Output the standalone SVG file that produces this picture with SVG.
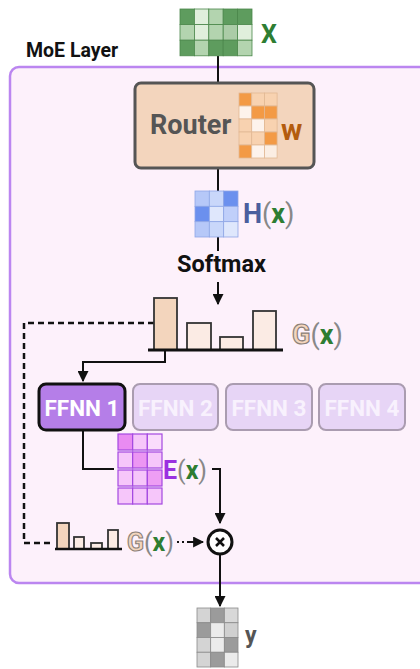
<svg xmlns="http://www.w3.org/2000/svg" width="420" height="669" viewBox="0 0 420 669">
<style>
.t{font-family:Roboto,"Liberation Sans",Arial,sans-serif;font-weight:bold}
.ln{stroke:#111;stroke-width:2;fill:none}
.dash{stroke:#111;stroke-width:2.5;fill:none;stroke-dasharray:6 4}
.bar{stroke:#333;stroke-width:1.8}
.gx{stroke:#4a874a;stroke-width:0.8}
.gw{stroke:#e2b894;stroke-width:0.8}
.gh{stroke:#8ea6e6;stroke-width:0.8}
.ge{stroke:#a448e0;stroke-width:1.2}
.gy{stroke:#8a8a8a;stroke-width:0.8}
.par{fill:#888;font-weight:normal}
.gr{fill:#2e7d32}
</style>
<defs>
<marker id="ah" viewBox="0 0 10 10" refX="9" refY="5" markerWidth="5.5" markerHeight="5.5" orient="auto" markerUnits="strokeWidth">
<path d="M0,0 L10,5 L0,10 z" fill="#111"/>
</marker>
</defs>

<g id="moe-layer">
<rect x="10" y="67" width="425" height="516" rx="9" fill="#fdf1fb" stroke="#bb86f0" stroke-width="2.5"/>
<text class="t" x="26" y="57" font-size="19.5" fill="#111">MoE Layer</text>
</g>

<g id="connectors">
<line class="ln" x1="218" y1="56" x2="218" y2="83"/>
<line class="ln" x1="218" y1="168" x2="218" y2="191"/>
<line class="ln" x1="218" y1="237" x2="218" y2="251"/>
<line class="ln" x1="218" y1="282" x2="218" y2="304" marker-end="url(#ah)"/>
<polyline class="ln" points="165,350 165,362 83,362 83,381" marker-end="url(#ah)"/>
<polyline class="dash" points="154,323 24,323 24,543 52,543"/>
<polyline class="ln" points="83,430 83,469 114,469"/>
<polyline class="ln" points="212,469 220,469 220,523" marker-end="url(#ah)"/>
<line x1="177" y1="542" x2="189" y2="542" stroke="#111" stroke-width="2" stroke-dasharray="2 3"/>
<line x1="189" y1="542" x2="203" y2="542" stroke="#111" stroke-width="2" marker-end="url(#ah)"/>
<line class="ln" x1="220" y1="554" x2="220" y2="606" marker-end="url(#ah)"/>
</g>

<g id="input-x">
<g class="gx">
<rect x="180" y="9" width="14.4" height="15.6" fill="#5e9c5e"/>
<rect x="194.4" y="9" width="14.4" height="15.6" fill="#e0efdc"/>
<rect x="208.8" y="9" width="14.4" height="15.6" fill="#b3d4af"/>
<rect x="223.2" y="9" width="14.4" height="15.6" fill="#5e9c5e"/>
<rect x="237.6" y="9" width="14.4" height="15.6" fill="#5e9c5e"/>
<rect x="180" y="24.6" width="14.4" height="15.6" fill="#b3d4af"/>
<rect x="194.4" y="24.6" width="14.4" height="15.6" fill="#e0efdc"/>
<rect x="208.8" y="24.6" width="14.4" height="15.6" fill="#b3d4af"/>
<rect x="223.2" y="24.6" width="14.4" height="15.6" fill="#abcca7"/>
<rect x="237.6" y="24.6" width="14.4" height="15.6" fill="#e0efdc"/>
<rect x="180" y="40.2" width="14.4" height="15.6" fill="#5e9c5e"/>
<rect x="194.4" y="40.2" width="14.4" height="15.6" fill="#b3d4af"/>
<rect x="208.8" y="40.2" width="14.4" height="15.6" fill="#5e9c5e"/>
<rect x="223.2" y="40.2" width="14.4" height="15.6" fill="#5e9c5e"/>
<rect x="237.6" y="40.2" width="14.4" height="15.6" fill="#b3d4af"/>
</g>
<text class="t gr" x="261" y="43" font-size="25">X</text>
</g>

<g id="router">
<rect x="135" y="83" width="179" height="85" rx="6" fill="#f3d5bd" stroke="#555" stroke-width="3"/>
<text class="t" x="150" y="134" font-size="27" fill="#555">Router</text>
<g class="gw">
<rect x="239" y="93" width="12.7" height="13" fill="#f39a45"/>
<rect x="251.7" y="93" width="12.7" height="13" fill="#f8d2b0"/>
<rect x="264.4" y="93" width="12.7" height="13" fill="#f8d2b0"/>
<rect x="239" y="106" width="12.7" height="13" fill="#fdf3ec"/>
<rect x="251.7" y="106" width="12.7" height="13" fill="#f39a45"/>
<rect x="264.4" y="106" width="12.7" height="13" fill="#f39a45"/>
<rect x="239" y="119" width="12.7" height="13" fill="#f8d2b0"/>
<rect x="251.7" y="119" width="12.7" height="13" fill="#fdf3ec"/>
<rect x="264.4" y="119" width="12.7" height="13" fill="#f8d2b0"/>
<rect x="239" y="132" width="12.7" height="13" fill="#f8d2b0"/>
<rect x="251.7" y="132" width="12.7" height="13" fill="#f8d2b0"/>
<rect x="264.4" y="132" width="12.7" height="13" fill="#f39a45"/>
<rect x="239" y="145" width="12.7" height="13" fill="#f39a45"/>
<rect x="251.7" y="145" width="12.7" height="13" fill="#fdf3ec"/>
<rect x="264.4" y="145" width="12.7" height="13" fill="#fbeee3"/>
</g>
<text class="t" x="281" y="140" font-size="29" fill="#b35c0e">w</text>
</g>

<g id="hidden-h">
<g class="gh">
<rect x="195" y="191" width="14.33" height="15.33" fill="#b6c8f8"/>
<rect x="209.33" y="191" width="14.33" height="15.33" fill="#c9d7fa"/>
<rect x="223.67" y="191" width="14.33" height="15.33" fill="#6b90ee"/>
<rect x="195" y="206.33" width="14.33" height="15.33" fill="#6b90ee"/>
<rect x="209.33" y="206.33" width="14.33" height="15.33" fill="#dfe7fc"/>
<rect x="223.67" y="206.33" width="14.33" height="15.33" fill="#c0cffa"/>
<rect x="195" y="221.67" width="14.33" height="15.33" fill="#b6c8f8"/>
<rect x="209.33" y="221.67" width="14.33" height="15.33" fill="#c9d7fa"/>
<rect x="223.67" y="221.67" width="14.33" height="15.33" fill="#dfe7fc"/>
</g>
<text class="t" x="243" y="223" font-size="27" fill="#4a5f9e">H<tspan class="par">(</tspan><tspan class="gr">x</tspan><tspan class="par">)</tspan></text>
</g>

<g id="softmax">
<text class="t" x="177" y="272" font-size="23.5" fill="#111">Softmax</text>
</g>

<g id="gate-g">
<rect class="bar" x="154" y="298" width="23" height="52" fill="#f3d5bd"/>
<rect class="bar" x="187" y="323" width="24" height="27" fill="#fbebe4"/>
<rect class="bar" x="220" y="337" width="23" height="13" fill="#fbebe4"/>
<rect class="bar" x="253" y="311" width="23" height="39" fill="#fbebe4"/>
<line x1="148" y1="350" x2="283" y2="350" stroke="#111" stroke-width="3"/>
<text class="t" x="292" y="344" font-size="27"><tspan fill="#f3d5bd" stroke="#8c8078" stroke-width="1.2">G</tspan><tspan class="par">(</tspan><tspan class="gr">x</tspan><tspan class="par">)</tspan></text>
</g>

<g id="ffnn1">
<rect x="39" y="384" width="86" height="46" rx="7" fill="#b57ee8" stroke="#111" stroke-width="3"/>
<text class="t" x="82" y="416" font-size="22.5" fill="#fff" text-anchor="middle">FFNN 1</text>
</g>
<g id="ffnn2">
<rect x="133" y="384" width="85" height="46" rx="7" fill="#e7d5f6" stroke="#aa9cb0" stroke-width="2"/>
<text class="t" x="175.5" y="416" font-size="22.5" fill="#f8f1fd" text-anchor="middle">FFNN 2</text>
</g>
<g id="ffnn3">
<rect x="226" y="384" width="86" height="46" rx="7" fill="#e7d5f6" stroke="#aa9cb0" stroke-width="2"/>
<text class="t" x="269" y="416" font-size="22.5" fill="#f8f1fd" text-anchor="middle">FFNN 3</text>
</g>
<g id="ffnn4">
<rect x="319" y="384" width="86" height="46" rx="7" fill="#e7d5f6" stroke="#aa9cb0" stroke-width="2"/>
<text class="t" x="362" y="416" font-size="22.5" fill="#f8f1fd" text-anchor="middle">FFNN 4</text>
</g>

<g id="expert-e">
<g class="ge">
<rect x="118" y="434" width="14.67" height="16" fill="#e98bf2"/>
<rect x="132.67" y="434" width="14.67" height="16" fill="#f6c6fa"/>
<rect x="147.33" y="434" width="14.67" height="16" fill="#fadcfc"/>
<rect x="118" y="452" width="14.67" height="16" fill="#f6c6fa"/>
<rect x="132.67" y="452" width="14.67" height="16" fill="#ec96f3"/>
<rect x="147.33" y="452" width="14.67" height="16" fill="#f6c6fa"/>
<rect x="118" y="470" width="14.67" height="16" fill="#f6c6fa"/>
<rect x="132.67" y="470" width="14.67" height="16" fill="#f6c6fa"/>
<rect x="147.33" y="470" width="14.67" height="16" fill="#ee9ef4"/>
<rect x="118" y="488" width="14.67" height="16" fill="#f6c6fa"/>
<rect x="132.67" y="488" width="14.67" height="16" fill="#f6c6fa"/>
<rect x="147.33" y="488" width="14.67" height="16" fill="#f6c6fa"/>
</g>
<text class="t" x="163" y="479" font-size="25" fill="#9b30e0">E<tspan class="par">(</tspan><tspan class="gr">x</tspan><tspan class="par">)</tspan></text>
</g>

<g id="gate-g-small">
<rect class="bar" x="57" y="523" width="12" height="26" fill="#f3d5bd"/>
<rect class="bar" x="74" y="537" width="10" height="12" fill="#fbebe4"/>
<rect class="bar" x="91" y="543" width="11" height="6" fill="#fbebe4"/>
<rect class="bar" x="108" y="530" width="10" height="19" fill="#fbebe4"/>
<line x1="55" y1="549" x2="122" y2="549" stroke="#111" stroke-width="2.5"/>
<text class="t" x="127" y="551" font-size="25"><tspan fill="#f3d5bd" stroke="#8c8078" stroke-width="1.1">G</tspan><tspan class="par">(</tspan><tspan class="gr">x</tspan><tspan class="par">)</tspan></text>
</g>

<g id="multiply">
<circle cx="220" cy="542" r="12" fill="#fff" stroke="#111" stroke-width="3"/>
<path d="M216,538 L224,546 M224,538 L216,546" stroke="#111" stroke-width="2.5"/>
</g>

<g id="output-y">
<g class="gy">
<rect x="197" y="608" width="13.67" height="14.75" fill="#d4d4d4"/>
<rect x="210.67" y="608" width="13.67" height="14.75" fill="#9b9b9b"/>
<rect x="224.33" y="608" width="13.67" height="14.75" fill="#d8d8d8"/>
<rect x="197" y="622.75" width="13.67" height="14.75" fill="#9b9b9b"/>
<rect x="210.67" y="622.75" width="13.67" height="14.75" fill="#ebebeb"/>
<rect x="224.33" y="622.75" width="13.67" height="14.75" fill="#d0d0d0"/>
<rect x="197" y="637.5" width="13.67" height="14.75" fill="#d4d4d4"/>
<rect x="210.67" y="637.5" width="13.67" height="14.75" fill="#ebebeb"/>
<rect x="224.33" y="637.5" width="13.67" height="14.75" fill="#9b9b9b"/>
<rect x="197" y="652.25" width="13.67" height="14.75" fill="#d4d4d4"/>
<rect x="210.67" y="652.25" width="13.67" height="14.75" fill="#9b9b9b"/>
<rect x="224.33" y="652.25" width="13.67" height="14.75" fill="#ebebeb"/>
</g>
<text class="t" x="245" y="643" font-size="23" fill="#555">y</text>
</g>
</svg>
